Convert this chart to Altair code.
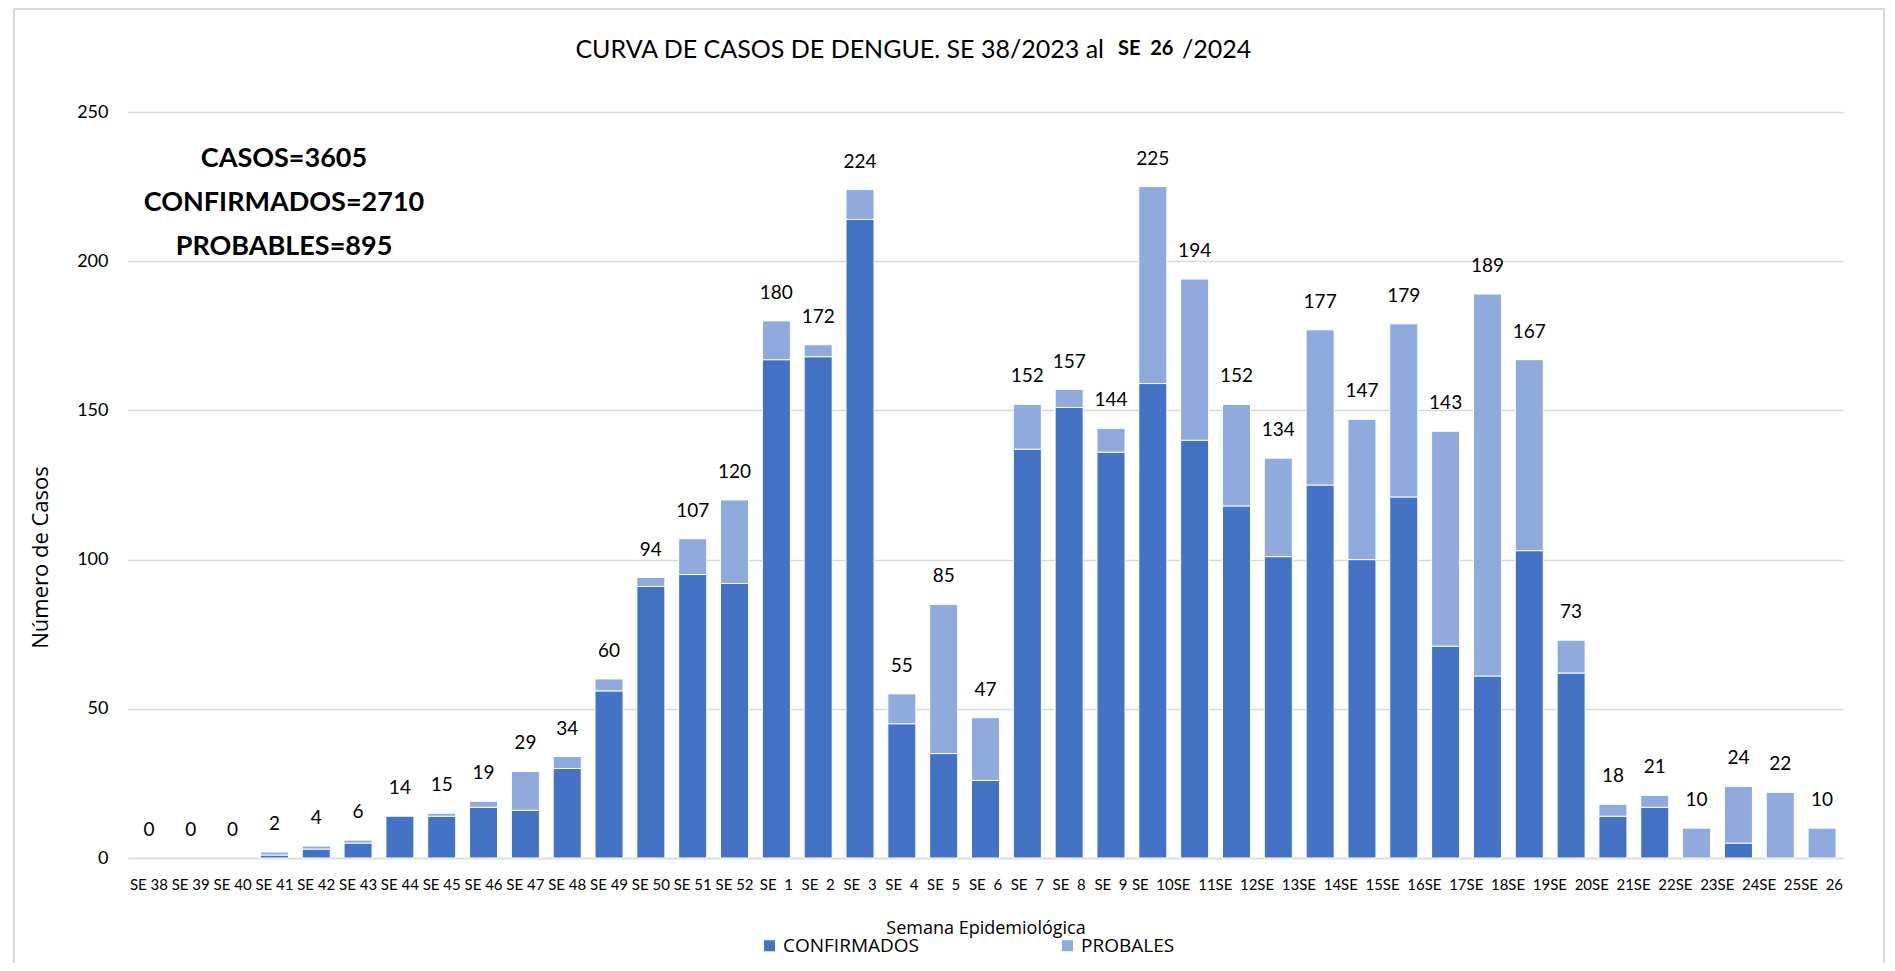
import altair as alt
import pandas as pd

semanas = ["SE 38", "SE 39", "SE 40", "SE 41", "SE 42", "SE 43", "SE 44", "SE 45",
           "SE 46", "SE 47", "SE 48", "SE 49", "SE 50", "SE 51", "SE 52"] + \
          ["SE\u00a0\u00a0" + str(n) for n in range(1, 27)]

confirmados = [0, 0, 0, 1, 3, 5, 14, 14, 17, 16, 30, 56, 91, 95, 92,
               167, 168, 214, 45, 35, 26, 137, 151, 136, 159, 140, 118, 101, 125,
               100, 121, 71, 61, 103, 62, 14, 17, 0, 5, 0, 0]

probables = [0, 0, 0, 1, 1, 1, 0, 1, 2, 13, 4, 4, 3, 12, 28,
             13, 4, 10, 10, 50, 21, 15, 6, 8, 66, 54, 34, 33, 52,
             47, 58, 72, 128, 64, 11, 4, 4, 10, 19, 22, 10]

totales = [0, 0, 0, 2, 4, 6, 14, 15, 19, 29, 34, 60, 94, 107, 120,
           180, 172, 224, 55, 85, 47, 152, 157, 144, 225, 194, 152, 134, 177,
           147, 179, 143, 189, 167, 73, 18, 21, 10, 24, 22, 10]

series = ["CONFIRMADOS", "PROBALES"]
colores = ["#4472C4", "#8FAADC"]

resumen = ["CASOS=3605", "CONFIRMADOS=2710", "PROBABLES=895"]

rows = []
for s, c, p in zip(semanas, confirmados, probables):
    rows.append({"semana": s, "serie": series[0], "casos": c, "orden": 0})
    rows.append({"semana": s, "serie": series[1], "casos": p, "orden": 1})
df = pd.DataFrame(rows)
df_tot = pd.DataFrame({"semana": semanas, "total": totales})
one = pd.DataFrame({"k": [0]})

W, H = 1715, 746

x_axis = alt.Axis(
    title="Semana Epidemiológica", labelAngle=0, labelFont="Lato", labelFontSize=15,
    labelColor="#000000", labelBaseline="middle", labelPadding=26, ticks=False, tickSize=0,
    domain=True, domainColor="#D9D9D9", domainWidth=1.5, labelLimit=0, labelOverlap=False,
    titleFont="Open Sans", titleFontSize=18, titleFontWeight="normal", titleColor="#000000",
    titleY=70, titleBaseline="middle",
)
y_axis = alt.Axis(
    title="Número de Casos", values=[0, 50, 100, 150, 200, 250], grid=True,
    gridColor="#D9D9D9", gridWidth=1.5, domain=False, ticks=False, tickSize=0,
    labelFont="Lato", labelFontSize=18, labelColor="#000000", labelPadding=20,
    titleFont="Open Sans", titleFontSize=22, titleFontWeight="normal", titleColor="#000000",
    titleX=-88, titleY=445, titleAngle=270, titleAlign="center", titleBaseline="middle",
)

xsc = alt.Scale(paddingInner=0.33, paddingOuter=0.165)
ysc = alt.Scale(domain=[0, 250])

bars = alt.Chart(df).transform_filter("datum.casos > 0").mark_bar(
    stroke="white", strokeWidth=1
).encode(
    x=alt.X("semana:N", sort=semanas, scale=xsc, axis=x_axis),
    y=alt.Y("casos:Q", stack="zero", scale=ysc, axis=y_axis),
    color=alt.Color(
        "serie:N",
        scale=alt.Scale(domain=series, range=colores),
        legend=alt.Legend(
            title=None, orient="none", legendX=632, legendY=824, direction="horizontal",
            symbolType="square", symbolSize=121, symbolStrokeWidth=0, symbolOpacity=1,
            labelFont="Open Sans", labelFontSize=19, labelColor="#000000",
            columnPadding=139, labelOffset=4,
        ),
    ),
    order=alt.Order("orden:Q"),
)

labels = alt.Chart(df_tot).mark_text(
    font="Lato", fontSize=19, dy=-28, baseline="middle", align="center", color="#000000"
).encode(
    x=alt.X("semana:N", sort=semanas, scale=xsc, title="Semana Epidemiológica"),
    y=alt.Y("total:Q", scale=ysc, title="Número de Casos"),
    text=alt.Text("total:Q"),
)

border = alt.Chart(one).mark_rect(fill="transparent", stroke="#D9D9D9", strokeWidth=2).encode(
    x=alt.value(-114), x2=alt.value(1756), y=alt.value(-103), y2=alt.value(860)
)

def txt(t, x, y, size, weight="normal", align="center", baseline="middle"):
    return alt.Chart(one).mark_text(
        text=t, font="Lato", fontSize=size, fontWeight=weight, align=align,
        baseline=baseline, color="#000000"
    ).encode(x=alt.value(x), y=alt.value(y))

t1 = txt("CURVA DE CASOS DE DENGUE. SE 38/2023 al", 976, -54, 25, align="right", baseline="alphabetic")
t2 = txt("SE\u00a0\u00a026", 990, -57, 20, weight="bold", align="left", baseline="alphabetic")
t3 = txt("/2024", 1054, -54, 25, align="left", baseline="alphabetic")

a1 = txt(resumen[0], 156, 47, 27, weight="bold")
a2 = txt(resumen[1], 156, 91, 27, weight="bold")
a3 = txt(resumen[2], 156, 135, 27, weight="bold")

chart = alt.layer(border, bars, labels, t1, t2, t3, a1, a2, a3).properties(
    width=W, height=H,
    autosize=alt.AutoSizeParams(type="none"),
    padding={"left": 120, "top": 104, "right": 42, "bottom": 105},
    background="white",
).configure_view(strokeWidth=0)

chart.save("out.html", embed_options={"renderer": "svg", "actions": False})
